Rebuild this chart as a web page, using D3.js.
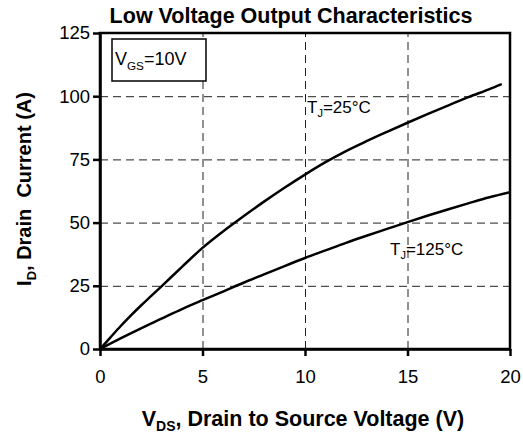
<!DOCTYPE html>
<html>
<head>
<meta charset="utf-8">
<script src="https://cdn.jsdelivr.net/npm/d3@7"></script>
<style>
  body { margin: 0; background: #fff; }
  text { font-family: "Liberation Sans", Arial, sans-serif; fill: #000; }
</style>
</head>
<body>
<div id="chart"></div>
<script>
var svgWidth = 523;
var svgHeight = 439;

// plot box in pixels
var margin = { top: 33, right: 13, bottom: 90, left: 100 };
var width = svgWidth - margin.left - margin.right;
var height = svgHeight - margin.top - margin.bottom;

// data
var xTicks = [0, 5, 10, 15, 20];
var yTicks = [0, 25, 50, 75, 100, 125];

var vds25 = [0, 0.5, 1, 1.5, 2, 2.5, 3, 4, 5, 6, 7, 8, 9, 10, 11, 12, 13, 14, 15, 16, 17, 18, 19, 19.6];
var id25 = [0, 4.5, 9, 13.2, 17.2, 21, 24.8, 32.5, 40, 46.5, 52.5, 58.3, 63.8, 69, 73.9, 78.3, 82.2, 85.9, 89.5, 93, 96.4, 99.7, 102.8, 104.8];

var vds125 = [0, 1, 2, 3, 4, 5, 6, 7, 8, 9, 10, 11, 12, 13, 14, 15, 16, 17, 18, 19, 20];
var id125 = [0, 4.2, 8.2, 12, 15.8, 19.3, 22.7, 26.2, 29.5, 32.8, 36, 39, 42, 44.8, 47.5, 50.2, 52.8, 55.3, 57.7, 60, 62];

var svg = d3.select("#chart")
    .append("svg")
    .attr("width", svgWidth)
    .attr("height", svgHeight);

var chart = svg.append("g")
    .attr("transform", "translate(" + margin.left + "," + margin.top + ")");

var xScale = d3.scaleLinear().domain([0, 20]).range([0, width]);
var yScale = d3.scaleLinear().domain([0, 125]).range([height, 0]);

// dashed grid
chart.append("g")
    .attr("class", "grid")
    .attr("transform", "translate(0," + height + ")")
    .call(d3.axisBottom(xScale).tickValues(xTicks.slice(1, -1)).tickSize(-height).tickFormat(""));
chart.append("g")
    .attr("class", "grid")
    .call(d3.axisLeft(yScale).tickValues(yTicks.slice(1, -1)).tickSize(-width).tickFormat(""));
chart.selectAll(".grid .domain").remove();
chart.selectAll(".grid line")
    .attr("stroke", "#222")
    .attr("stroke-width", 1)
    .attr("stroke-dasharray", "8,5");

// frame
chart.append("rect")
    .attr("width", width)
    .attr("height", height)
    .attr("fill", "none")
    .attr("stroke", "#000")
    .attr("stroke-width", 2.5);

// axes
var bottomAxis = d3.axisBottom(xScale).tickValues(xTicks).tickSize(7).tickPadding(14).tickSizeOuter(0);
var leftAxis = d3.axisLeft(yScale).tickValues(yTicks).tickSize(7).tickPadding(3).tickSizeOuter(0);

var xAxis = chart.append("g")
    .attr("transform", "translate(0," + height + ")")
    .call(bottomAxis);
var yAxis = chart.append("g").call(leftAxis);

[xAxis, yAxis].forEach(function(ax) {
    ax.select(".domain").attr("stroke-width", 2.5);
    ax.selectAll(".tick line").attr("stroke-width", 2.5);
    ax.selectAll(".tick text")
        .style("font-size", "18.5px")
        .style("font-family", "'Liberation Sans', Arial, sans-serif")
        .attr("fill", "#000");
});

// curves
var line = d3.line()
    .x(function(d) { return xScale(d[0]); })
    .y(function(d) { return yScale(d[1]); })
    .curve(d3.curveMonotoneX);

var series = [d3.zip(vds25, id25), d3.zip(vds125, id125)];
chart.selectAll(".curve")
    .data(series)
    .enter().append("path")
    .attr("class", "curve")
    .attr("d", line)
    .attr("fill", "none")
    .attr("stroke", "#000")
    .attr("stroke-width", 2.5);

// text with a subscript part
function subText(parent, x, y, size, weight, main, sub, rest) {
    var t = parent.append("text")
        .attr("x", x)
        .attr("y", y)
        .style("font-size", size + "px")
        .style("font-weight", weight);
    t.append("tspan").text(main);
    t.append("tspan").attr("dy", size * 0.25).style("font-size", (size * 0.65) + "px").text(sub);
    t.append("tspan").attr("dy", -size * 0.25).text(rest);
    return t;
}

// V_GS box
chart.append("rect")
    .attr("x", 12)
    .attr("y", 6)
    .attr("width", 94)
    .attr("height", 42)
    .attr("fill", "#fff")
    .attr("stroke", "#000")
    .attr("stroke-width", 1.5);
subText(chart, 15, 32, 18, "normal", "V", "GS", "=10V");

subText(chart, 207, 80, 17, "normal", "T", "J", "=25°C");
subText(chart, 290, 222, 17, "normal", "T", "J", "=125°C");

// titles
svg.append("text")
    .attr("x", 291)
    .attr("y", 23)
    .attr("text-anchor", "middle")
    .style("font-size", "21.5px")
    .style("font-weight", "bold")
    .text("Low Voltage Output Characteristics");

subText(svg, 0, 426, 21.5, "bold", "V", "DS", ", Drain to Source Voltage (V)")
    .attr("x", 303)
    .attr("text-anchor", "middle");

subText(svg, 0, 0, 20, "bold", "I", "D", ", Drain  Current (A)")
    .attr("text-anchor", "middle")
    .attr("transform", "translate(31,189) rotate(-90)")
    .style("white-space", "pre");
</script>
</body>
</html>
